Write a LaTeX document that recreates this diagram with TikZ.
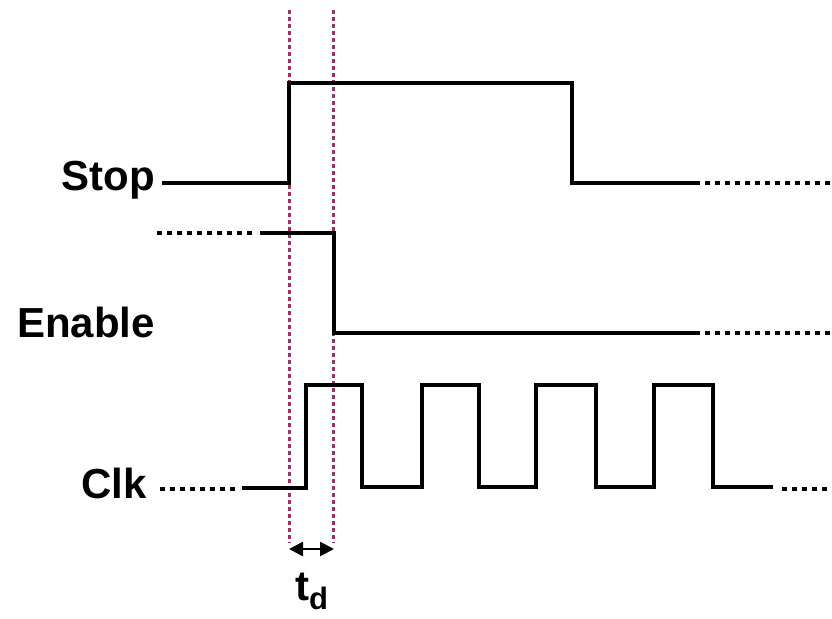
\documentclass[tikz,border=0pt]{standalone}
\usepackage{fontspec}
\setmainfont{Liberation Sans}
\usetikzlibrary{arrows.meta}
\definecolor{guide}{HTML}{993366}
\tikzset{
  sig/.style={line width=4.5pt, line cap=butt, line join=miter},
  cont/.style={line width=4.5pt, line cap=butt, dash pattern=on 5pt off 5pt},
  guideline/.style={guide, line width=3pt, line cap=butt, dash pattern=on 4pt off 3pt},
  lbl/.style={inner sep=0pt, font=\fontsize{42}{48}\selectfont\bfseries},
  dim/.style={line width=2.5pt, {Triangle[length=14pt,width=14pt]}-{Triangle[length=14pt,width=14pt]}}
}
\begin{document}
\begin{tikzpicture}[x=1pt,y=-1pt]
\useasboundingbox (0,0) rectangle (832,618);
% guide lines
\coordinate (g1top) at (289,10); \coordinate (g1bot) at (289,543);
\coordinate (g2top) at (333,10); \coordinate (g2bot) at (333,543);
\draw[guideline] (g1top) -- (g1bot);
\draw[guideline] (g2top) -- (g2bot);
% labels
\node[lbl, anchor=base east] (stop) at (155,190) {Stop};
\node[lbl, anchor=base east] (enable) at (155,337) {Enable};
\node[lbl, anchor=base east] (clk) at (147,498) {Clk};
% Stop
\draw[sig] (162,183) -- (289,183) -- (289,83) -- (572,83) -- (572,183) -- (700,183);
\draw[cont] (705,183) -- (832,183);
% Enable
\draw[cont] (157,233) -- (257,233);
\draw[sig] (260,233) -- (334,233) -- (334,333) -- (700,333);
\draw[cont] (705,333) -- (832,333);
% Clk
\draw[cont] (160,489) -- (240,489);
\draw[sig] (242,488) -- (306,488) -- (306,385) -- (362,385) -- (362,487)
  -- (422,487) -- (422,385) -- (479,385) -- (479,487)
  -- (536,487) -- (536,385) -- (596,385) -- (596,487)
  -- (654,487) -- (654,385) -- (713,385) -- (713,487) -- (773,487);
\draw[cont] (782,489) -- (832,489);
% td
\coordinate (a1) at (289,549); \coordinate (a2) at (334,549);
\draw[dim] (a1) -- (a2);
\node[lbl, anchor=base west] (td) at (295,600) {t\raisebox{-9pt}{\fontsize{31}{34}\selectfont d}};
\end{tikzpicture}
\end{document}
